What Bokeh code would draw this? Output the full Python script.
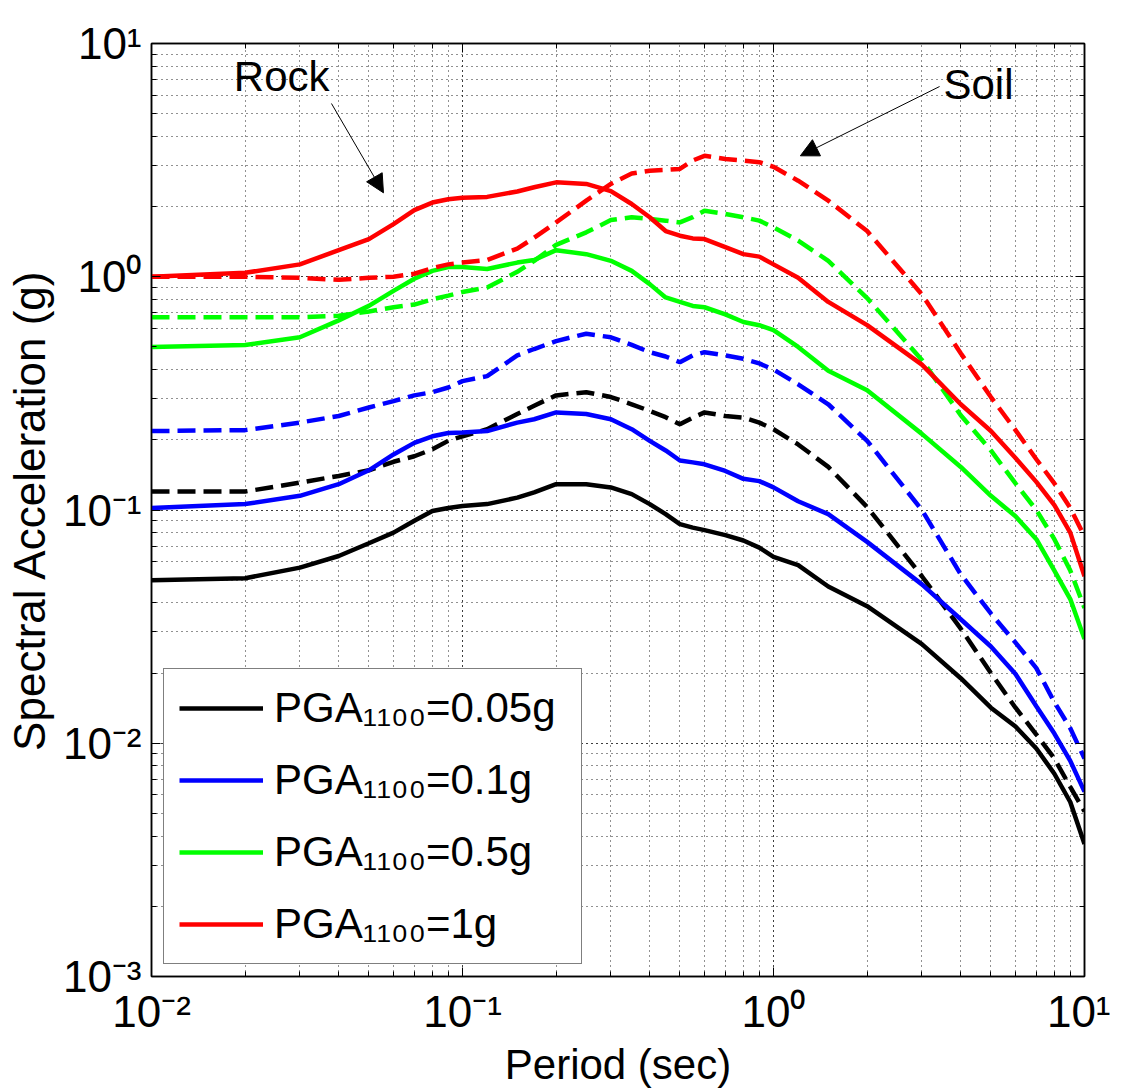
from bokeh.plotting import figure
from bokeh.models import (LogAxis, LogTicker, Legend, LegendItem, Arrow,
                          NormalHead, Label)
from bokeh.embed import file_html
from bokeh.resources import INLINE

# ---------------- data ----------------
periods = [0.01, 0.02, 0.03, 0.04, 0.05, 0.06, 0.07, 0.08, 0.09, 0.1,
           0.12, 0.15, 0.17, 0.2, 0.25, 0.3, 0.35, 0.4, 0.45, 0.5,
           0.55, 0.6, 0.7, 0.8, 0.9, 1.0, 1.2, 1.5, 2, 3,
           4, 5, 6, 7, 8, 9, 10]

rock_005 = [0.050, 0.051, 0.0566, 0.0635, 0.072, 0.080, 0.090, 0.099, 0.102, 0.104,
            0.106, 0.113, 0.119, 0.129, 0.129, 0.125, 0.117, 0.106, 0.096, 0.087,
            0.084, 0.082, 0.078, 0.074, 0.069, 0.063, 0.058, 0.047, 0.0387, 0.0266,
            0.019, 0.0142, 0.0118, 0.0095, 0.0074, 0.0056, 0.0037]
soil_005 = [0.12, 0.12, 0.131, 0.140, 0.148, 0.161, 0.170, 0.182, 0.198, 0.207,
            0.222, 0.258, 0.280, 0.31, 0.32, 0.305, 0.284, 0.266, 0.25, 0.233,
            0.249, 0.262, 0.253, 0.249, 0.237, 0.222, 0.191, 0.153, 0.103, 0.052,
            0.031, 0.020, 0.0142, 0.0109, 0.0086, 0.0065, 0.0051]
rock_01 = [0.102, 0.106, 0.115, 0.129, 0.148, 0.173, 0.194, 0.207, 0.214, 0.215,
           0.218, 0.237, 0.245, 0.262, 0.258, 0.245, 0.222, 0.198, 0.18, 0.163,
           0.16, 0.157, 0.147, 0.136, 0.133, 0.125, 0.109, 0.096, 0.073, 0.048,
           0.034, 0.026, 0.0198, 0.0144, 0.011, 0.0084, 0.0062]
soil_01 = [0.218, 0.22, 0.237, 0.253, 0.275, 0.293, 0.31, 0.32, 0.335, 0.357,
           0.375, 0.46, 0.49, 0.53, 0.57, 0.55, 0.51, 0.475, 0.455, 0.43,
           0.46, 0.475, 0.46, 0.445, 0.425, 0.40, 0.346, 0.284, 0.198, 0.10,
           0.053, 0.036, 0.027, 0.021, 0.015, 0.0116, 0.0086]
rock_05 = [0.50, 0.51, 0.55, 0.65, 0.75, 0.87, 0.98, 1.06, 1.10, 1.10,
           1.08, 1.15, 1.18, 1.30, 1.25, 1.17, 1.06, 0.93, 0.815, 0.78,
           0.75, 0.74, 0.69, 0.64, 0.62, 0.59, 0.50, 0.395, 0.326, 0.212,
           0.153, 0.115, 0.094, 0.075, 0.055, 0.0415, 0.028]
soil_05 = [0.67, 0.67, 0.67, 0.68, 0.71, 0.74, 0.76, 0.80, 0.83, 0.86,
           0.90, 1.05, 1.17, 1.37, 1.55, 1.75, 1.80, 1.77, 1.74, 1.71,
           1.80, 1.92, 1.86, 1.80, 1.74, 1.63, 1.43, 1.17, 0.81, 0.44,
           0.255, 0.18, 0.13, 0.10, 0.075, 0.055, 0.038]
rock_1 = [1.00, 1.04, 1.13, 1.30, 1.45, 1.68, 1.93, 2.08, 2.15, 2.18,
          2.20, 2.32, 2.42, 2.54, 2.50, 2.33, 2.05, 1.80, 1.57, 1.50,
          1.46, 1.45, 1.34, 1.25, 1.22, 1.13, 0.99, 0.78, 0.62, 0.42,
          0.284, 0.218, 0.167, 0.132, 0.105, 0.080, 0.052]
soil_1 = [1.00, 1.00, 0.99, 0.97, 0.99, 1.00, 1.03, 1.09, 1.13, 1.15,
          1.18, 1.32, 1.47, 1.71, 2.12, 2.50, 2.77, 2.85, 2.87, 2.90,
          3.15, 3.30, 3.20, 3.15, 3.10, 2.96, 2.58, 2.12, 1.57, 0.84,
          0.47, 0.305, 0.22, 0.165, 0.13, 0.102, 0.077]

legend_labels = ["PGA\u2081\u2081\u2080\u2080=0.05g", "PGA\u2081\u2081\u2080\u2080=0.1g",
                 "PGA\u2081\u2081\u2080\u2080=0.5g", "PGA\u2081\u2081\u2080\u2080=1g"]
series_colors = ["#000000", "#0000ff", "#00ff00", "#ff0000"]

x_label = "Period (sec)"
y_label = "Spectral Acceleration (g)"

x_ticks = [0.01, 0.1, 1, 10]
y_ticks = [0.001, 0.01, 0.1, 1, 10]

# annotations: (period, SA) pairs
rock_text = (0.0184, 7.25)
rock_arrow = (0.0379, 5.53, 0.0557, 2.29)
soil_text = (3.52, 6.70)
soil_arrow = (3.42, 6.54, 1.22, 3.30)

FONT = "Liberation Sans"

# ---------------- figure ----------------
p = figure(x_axis_type="log", y_axis_type="log",
           x_range=(0.01, 10), y_range=(0.001, 10),
           frame_width=933, frame_height=933,
           min_border_left=151, min_border_right=26,
           min_border_top=43, min_border_bottom=112,
           output_backend="svg", toolbar_location=None)
p.background_fill_color = "white"
p.border_fill_color = "white"
p.outline_line_color = "black"
p.outline_line_width = 1.5

SUP = {"-": "\u207b", "0": "\u2070", "1": "\u00b9", "2": "\u00b2", "3": "\u00b3"}


def sup_label(v):
    e = 0
    while 10 ** e < v * 0.999:
        e += 1
    while 10 ** e > v * 1.001:
        e -= 1
    return "10" + "".join(SUP[c] for c in str(e))


def style_ticks(ax):
    ax.major_tick_in = 9
    ax.major_tick_out = 0
    ax.minor_tick_in = 5
    ax.minor_tick_out = 0
    ax.axis_line_color = "black"
    ax.axis_line_width = 1.5
    ax.major_tick_line_color = "black"
    ax.minor_tick_line_color = "black"
    ax.major_tick_line_width = 1
    ax.minor_tick_line_width = 1


xa = p.xaxis[0]
ya = p.yaxis[0]
xa.major_label_overrides = {t: sup_label(t) for t in x_ticks}
ya.major_label_overrides = {t: sup_label(t) for t in y_ticks}
for ax in (xa, ya):
    style_ticks(ax)
    ax.major_label_text_font = FONT
    ax.major_label_text_font_size = "44px"
    ax.major_label_text_color = "black"
    ax.axis_label_text_font = FONT
    ax.axis_label_text_font_style = "normal"
    ax.axis_label_text_color = "black"

xa.axis_label = x_label
xa.axis_label_text_font_size = "42px"
xa.major_label_standoff = 10
xa.axis_label_standoff = 2
ya.axis_label = y_label
ya.axis_label_text_font_size = "44px"
ya.major_label_standoff = 10
ya.axis_label_standoff = 6

for place in ("right", "above"):
    ax = LogAxis(ticker=LogTicker())
    style_ticks(ax)
    ax.major_label_text_font_size = "10px"
    ax.major_label_text_alpha = 0
    ax.major_label_standoff = 0
    p.add_layout(ax, place)

p.grid.grid_line_color = "#222222"
p.grid.grid_line_dash = "1 4"
p.grid.grid_line_width = 1
p.grid.minor_grid_line_color = "#222222"
p.grid.minor_grid_line_dash = "1 4"
p.grid.minor_grid_line_width = 1

rock_series = [rock_005, rock_01, rock_05, rock_1]
soil_series = [soil_005, soil_01, soil_05, soil_1]
items = []
for rock, soil, col, lab in zip(rock_series, soil_series, series_colors, legend_labels):
    r = p.line(periods, rock, line_color=col, line_width=4.5)
    p.line(periods, soil, line_color=col, line_width=4.5, line_dash="18 8")
    items.append(LegendItem(label=lab, renderers=[r]))

legend = Legend(items=items, location=(12, 12))
legend.label_text_font = FONT
legend.label_text_font_size = "42px"
legend.label_text_color = "black"
legend.glyph_width = 84
legend.glyph_height = 48
legend.label_height = 48
legend.label_width = 292
legend.label_standoff = 11
legend.spacing = 24
legend.padding = 15
legend.margin = 0
legend.border_line_color = "black"
legend.border_line_width = 1
legend.background_fill_color = "white"
legend.background_fill_alpha = 1
p.add_layout(legend)

p.add_layout(Label(x=rock_text[0], y=rock_text[1], text="Rock", text_font=FONT,
                   text_font_size="42px", text_color="black", text_baseline="alphabetic"))
p.add_layout(Label(x=soil_text[0], y=soil_text[1], text="Soil", text_font=FONT,
                   text_font_size="42px", text_color="black", text_baseline="alphabetic"))
for a in (rock_arrow, soil_arrow):
    p.add_layout(Arrow(end=NormalHead(size=18, fill_color="black", line_color="black"),
                       x_start=a[0], y_start=a[1], x_end=a[2], y_end=a[3],
                       line_color="black", line_width=1))

open("out.html", "w").write(file_html(p, INLINE))
